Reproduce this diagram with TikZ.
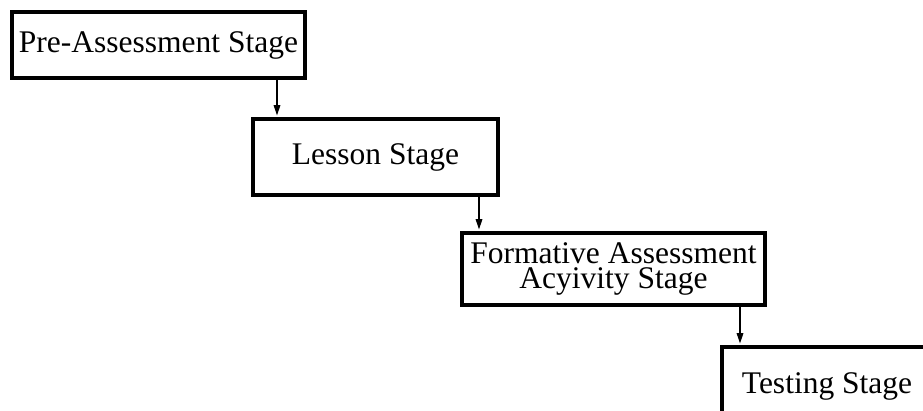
\documentclass[tikz,border=0pt]{standalone}
\usepackage{fontspec}
\setmainfont{Liberation Serif}
\usetikzlibrary{arrows.meta}
\begin{document}
\begin{tikzpicture}[x=1pt,y=-1pt,
  stagebox/.style={draw=black,line width=3.5pt,fill=white,inner sep=0pt,
    align=center,font=\fontsize{31.5}{25.5}\selectfont},
  flow/.style={draw=black,line width=2.5pt,
    -{Triangle[length=11pt,width=6pt]},shorten >=1pt}]
  \useasboundingbox (0,0) rectangle (923,411);
  \clip (0,0) rectangle (923,411);
  % stage boxes
  \node[stagebox,minimum width=293pt,minimum height=66pt] (pre) at (158.5,45)
    {Pre-Assessment Stage};
  \node[stagebox,minimum width=245pt,minimum height=76pt] (lesson) at (375.5,157)
    {Lesson Stage};
  \node[stagebox,minimum width=303pt,minimum height=72pt] (form) at (613.5,269)
    {Formative Assessment\\Acyivity Stage};
  \node[stagebox,minimum width=210pt,minimum height=78pt] (test) at (827,386)
    {Testing Stage};
  % connectors
  \draw[flow] (pre.south -| 277,0) -- (lesson.north -| 277,0);
  \draw[flow] (lesson.south -| 479,0) -- (form.north -| 479,0);
  \draw[flow] (form.south -| 740,0) -- (test.north -| 740,0);
\end{tikzpicture}
\end{document}
